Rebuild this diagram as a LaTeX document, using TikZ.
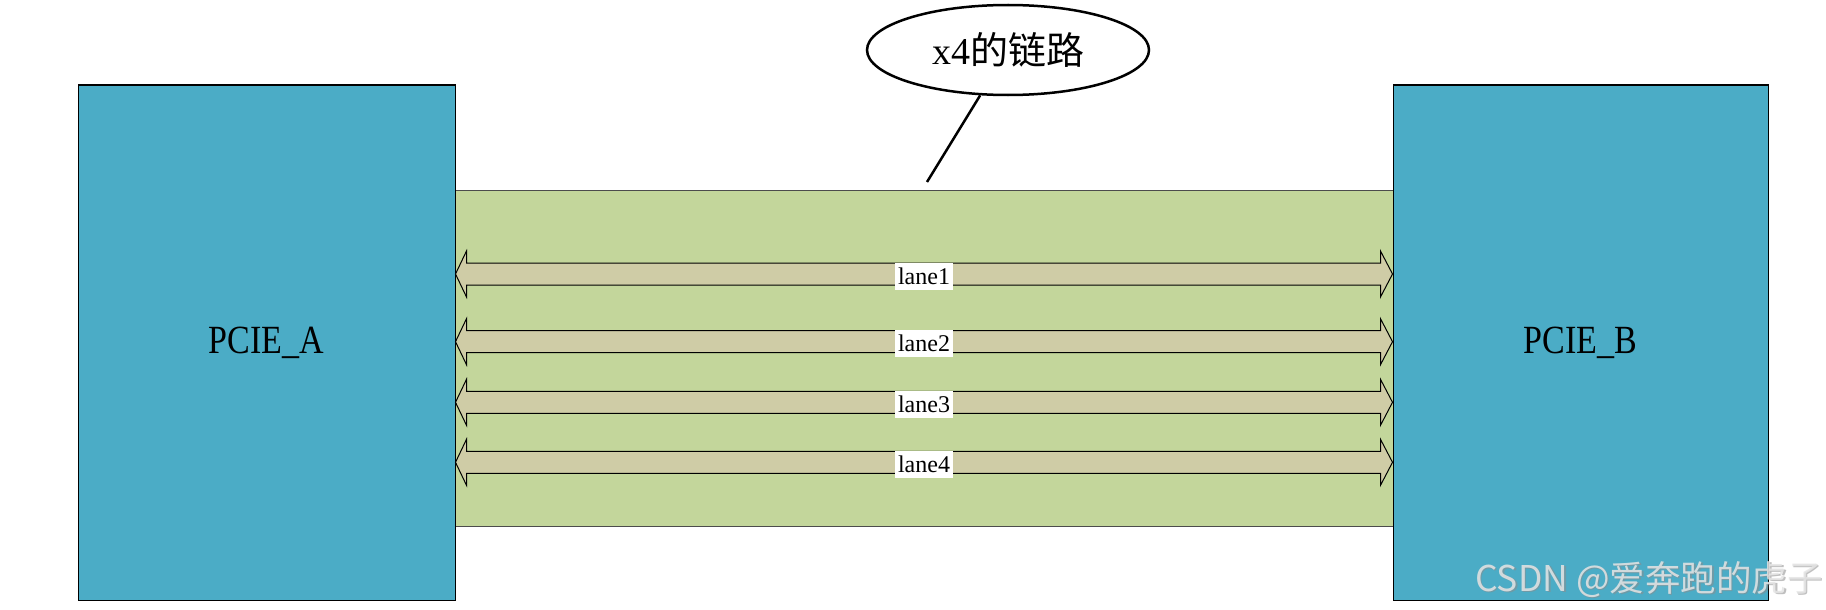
\documentclass[tikz,border=0pt]{standalone}
\usepackage{fontspec}
\setmainfont{Liberation Serif}
\newfontfamily\simsun{Liberation Serif}[FakeStretch=0.85]
\newfontfamily\cjk{Noto Sans CJK SC}
\usetikzlibrary{shapes.geometric,calc}
\definecolor{boxblue}{HTML}{4BACC6}
\definecolor{linkgreen}{HTML}{C3D69B}
\definecolor{lanefill}{HTML}{CFCCA6}
\tikzset{
  pciebox/.style={draw=black, line width=1pt, fill=boxblue, inner sep=0pt,
    minimum height=515pt, font=\simsun\fontsize{40}{44}\selectfont},
  linkbox/.style={draw=black!70, line width=1pt, fill=linkgreen, inner sep=0pt,
    minimum width=938pt, minimum height=336pt},
  lanearrow/.style={draw=black, line width=1pt, fill=lanefill, line join=miter},
  lanelabel/.style={fill=white, inner xsep=3pt, inner ysep=0pt, minimum height=27pt,
    font=\fontsize{24}{26}\selectfont},
  callout/.style={ellipse, draw=black, line width=2.5pt, fill=white, inner sep=0pt,
    minimum width=282pt, minimum height=90pt, font=\fontsize{38}{42}\selectfont},
}
\begin{document}
\begin{tikzpicture}[x=1pt, y=-1pt]
\useasboundingbox[fill=white] (0,0) rectangle (1826,610);
\node[linkbox] (L) at (924,358) {};
\node[pciebox, minimum width=377pt] (A) at (266.5,342.5) {PCIE\_A};
\node[pciebox, minimum width=375pt] (B) at (1580.5,342.5) {PCIE\_B};
\foreach \c/\n in {274/1, 341.7/2, 402.3/3, 462.3/4}{
  \coordinate (la\n) at (A.east |- 0,\c);
  \coordinate (lb\n) at (B.west |- 0,\c);
  \draw[lanearrow] (la\n) -- ++(11,-23) -- ++(0,12) -- ($(lb\n)+(-12,-11)$) -- ++(0,-12)
     -- (lb\n) -- ++(-12,23) -- ++(0,-12) -- ($(la\n)+(11,11)$) -- ++(0,12) -- cycle;
  \node[lanelabel] (t\n) at ($(la\n)!0.5!(lb\n)+(0,2)$) {lane\n};
}
\node[callout] (E) at (1008,50) {x4{\cjk 的链路}};
\coordinate (tail) at (927,182);
\draw[line width=2.5pt] (E) -- (tail);
\node[anchor=base west, inner sep=0pt, text=black!45, opacity=0.55,
  font=\cjk\fontsize{35.5}{38}\selectfont] (wms) at (1476.5,592.5) {CSDN @爱奔跑的虎子};
\node[anchor=base west, inner sep=0pt, text=white!90!black, opacity=0.85,
  font=\cjk\fontsize{35.5}{38}\selectfont] (wm) at (1475,591) {CSDN @爱奔跑的虎子};
\end{tikzpicture}
\end{document}
